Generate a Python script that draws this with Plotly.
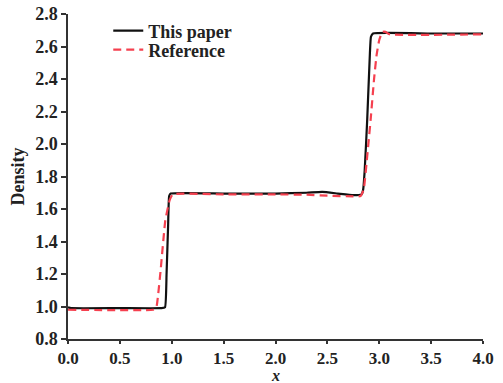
import plotly.graph_objects as go

# "This paper" series
paper_x = [0.0, 0.03, 0.5, 0.9, 0.935, 0.95, 0.965, 0.975, 0.99, 1.5, 2.0, 2.3, 2.45, 2.6, 2.75, 2.83, 2.845, 2.86, 2.884, 2.91, 2.92, 2.94, 3.5, 4.0]
paper_y = [0.995, 0.99, 0.99, 0.99, 0.995, 1.2, 1.5, 1.68, 1.695, 1.695, 1.695, 1.70, 1.705, 1.695, 1.685, 1.69, 1.72, 1.84, 2.15, 2.56, 2.66, 2.68, 2.68, 2.68]

# "Reference" series
ref_x = [0.0, 0.82, 0.85, 0.87, 0.893, 0.938, 0.98, 1.01, 1.5, 2.0, 2.3, 2.5, 2.75, 2.82, 2.85, 2.88, 2.917, 2.95, 2.975, 3.0, 3.03, 3.06, 3.1, 4.0]
ref_y = [0.98, 0.98, 0.99, 1.08, 1.225, 1.53, 1.655, 1.69, 1.69, 1.69, 1.688, 1.682, 1.678, 1.68, 1.72, 1.9, 2.15, 2.4, 2.55, 2.64, 2.69, 2.69, 2.675, 2.675]

x_ticks = [0.0, 0.5, 1.0, 1.5, 2.0, 2.5, 3.0, 3.5, 4.0]
y_ticks = [0.8, 1.0, 1.2, 1.4, 1.6, 1.8, 2.0, 2.2, 2.4, 2.6, 2.8]

FONT = "Liberation Serif"

fig = go.Figure()
fig.add_trace(go.Scatter(x=paper_x, y=paper_y, mode="lines", name="<b>This paper</b>", legend="legend",
                         line=dict(color="#111111", width=2.2, shape="spline", smoothing=0.4)))
fig.add_trace(go.Scatter(x=ref_x, y=ref_y, mode="lines", name="<b>Reference</b>", legend="legend2",
                         line=dict(color="#f5404f", width=2.2, dash="8px,5px", shape="spline", smoothing=0.4)))

axis_common = dict(showgrid=False, zeroline=False, showline=True, linecolor="#333333", linewidth=1.5,
                   ticks="outside", tickwidth=1.5, tickcolor="#333333", automargin=False)

fig.update_xaxes(range=[0, 4], tickvals=x_ticks, ticktext=["<b>%.1f</b>" % v for v in x_ticks],
                 ticklen=3, tickfont=dict(family=FONT, size=17, color="#222222"),
                 **axis_common)
fig.update_yaxes(range=[0.8, 2.8], tickvals=y_ticks, ticktext=["<b>%.1f</b>" % v for v in y_ticks],
                 ticklen=5, tickfont=dict(family=FONT, size=18, color="#222222"),
                 title=dict(text="<b>Density</b>", font=dict(family=FONT, size=18, color="#222222"), standoff=6),
                 **axis_common)

# x-axis title as an annotation anchored near the bottom edge
fig.add_annotation(text="<b><i>x</i></b>", xref="paper", yref="paper", x=0.5, y=-46 / 325,
                   xanchor="center", yanchor="bottom", showarrow=False, borderpad=0,
                   font=dict(family=FONT, size=16, color="#222222"))

leg_common = dict(x=0.097, xanchor="left", yanchor="middle", bgcolor="rgba(0,0,0,0)",
                  font=dict(family=FONT, size=18, color="#222222"), itemwidth=30)

fig.update_layout(
    width=503, height=383,
    margin=dict(l=68, r=20, t=14, b=44),
    plot_bgcolor="white", paper_bgcolor="white",
    legend=dict(y=1 - (31 - 14) / 325, **leg_common),
    legend2=dict(y=1 - (50 - 14) / 325, **leg_common),
    showlegend=True,
)

fig.write_html("out.html")
